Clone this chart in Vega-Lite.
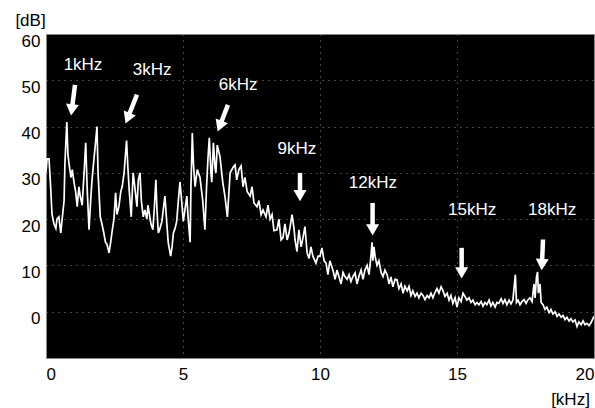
{
  "$schema": "https://vega.github.io/schema/vega-lite/v6.json",
  "width": 548,
  "height": 324,
  "autosize": {"type": "none"},
  "padding": {"left": 46, "top": 34, "right": 1, "bottom": 50},
  "background": "white",
  "config": {
    "view": {"fill": "black", "stroke": "#8a8a8a", "strokeWidth": 1, "strokeDash": [2, 1]},
    "font": "Liberation Sans",
    "axis": {"labelFont": "Liberation Sans", "titleFont": "Liberation Sans"}
  },
  "datasets": {
    "spec": [
      {"f":0.00,"db":30},{"f":0.04,"db":33},{"f":0.11,"db":33},{"f":0.16,"db":28},{"f":0.22,"db":21},{"f":0.29,"db":19},{"f":0.36,"db":18},{"f":0.40,"db":20},{"f":0.47,"db":20.5},{"f":0.54,"db":17},{"f":0.58,"db":19.5},{"f":0.66,"db":24},{"f":0.69,"db":32},{"f":0.76,"db":41},{"f":0.80,"db":34},{"f":0.84,"db":32},{"f":0.91,"db":29},{"f":0.96,"db":30.7},{"f":1.02,"db":28},{"f":1.08,"db":26},{"f":1.14,"db":22.7},{"f":1.20,"db":27},{"f":1.25,"db":25},{"f":1.32,"db":23},{"f":1.39,"db":30},{"f":1.45,"db":36.5},{"f":1.50,"db":27},{"f":1.57,"db":17.7},{"f":1.63,"db":24},{"f":1.68,"db":28.5},{"f":1.75,"db":33},{"f":1.80,"db":36},{"f":1.86,"db":40},{"f":1.90,"db":30},{"f":1.98,"db":20.5},{"f":2.04,"db":19},{"f":2.11,"db":17},{"f":2.17,"db":15},{"f":2.23,"db":14.5},{"f":2.30,"db":12.7},{"f":2.36,"db":15},{"f":2.42,"db":17.7},{"f":2.48,"db":20},{"f":2.54,"db":25.7},{"f":2.59,"db":21},{"f":2.66,"db":22.7},{"f":2.73,"db":26},{"f":2.78,"db":27},{"f":2.85,"db":30},{"f":2.94,"db":37},{"f":2.99,"db":31},{"f":3.04,"db":26},{"f":3.11,"db":20.5},{"f":3.18,"db":30},{"f":3.24,"db":27},{"f":3.32,"db":22.7},{"f":3.37,"db":28.5},{"f":3.43,"db":30},{"f":3.48,"db":24},{"f":3.55,"db":20.5},{"f":3.61,"db":22},{"f":3.68,"db":20},{"f":3.72,"db":23},{"f":3.83,"db":19},{"f":3.90,"db":17.7},{"f":3.96,"db":23},{"f":4.01,"db":28.5},{"f":4.05,"db":22},{"f":4.10,"db":17},{"f":4.16,"db":18},{"f":4.23,"db":19.5},{"f":4.28,"db":22},{"f":4.34,"db":25},{"f":4.41,"db":19},{"f":4.46,"db":15},{"f":4.55,"db":12},{"f":4.60,"db":14},{"f":4.65,"db":17},{"f":4.71,"db":18},{"f":4.77,"db":19.5},{"f":4.83,"db":24},{"f":4.89,"db":28},{"f":4.95,"db":24},{"f":5.01,"db":19.5},{"f":5.07,"db":22},{"f":5.14,"db":25},{"f":5.19,"db":20},{"f":5.26,"db":15},{"f":5.29,"db":27},{"f":5.34,"db":38.6},{"f":5.38,"db":32},{"f":5.44,"db":27},{"f":5.52,"db":30.7},{"f":5.62,"db":29},{"f":5.72,"db":24},{"f":5.80,"db":17.7},{"f":5.86,"db":27},{"f":5.91,"db":33},{"f":5.96,"db":37.6},{"f":6.02,"db":30},{"f":6.05,"db":28},{"f":6.11,"db":36.5},{"f":6.17,"db":31},{"f":6.20,"db":30},{"f":6.25,"db":36},{"f":6.35,"db":33.5},{"f":6.45,"db":28},{"f":6.53,"db":25},{"f":6.62,"db":20.5},{"f":6.72,"db":30},{"f":6.84,"db":31.3},{"f":6.90,"db":31.7},{"f":6.96,"db":28.5},{"f":7.04,"db":30.7},{"f":7.12,"db":31.5},{"f":7.19,"db":27},{"f":7.26,"db":29},{"f":7.34,"db":26},{"f":7.45,"db":25},{"f":7.52,"db":27},{"f":7.59,"db":23.5},{"f":7.70,"db":22.7},{"f":7.77,"db":24},{"f":7.85,"db":21},{"f":7.92,"db":22},{"f":8.03,"db":20.5},{"f":8.10,"db":23},{"f":8.18,"db":20},{"f":8.25,"db":21},{"f":8.32,"db":17.5},{"f":8.43,"db":17.7},{"f":8.50,"db":20},{"f":8.58,"db":15.5},{"f":8.65,"db":16},{"f":8.72,"db":19},{"f":8.80,"db":15.5},{"f":8.87,"db":17},{"f":8.98,"db":21},{"f":9.05,"db":18},{"f":9.09,"db":15.5},{"f":9.16,"db":13},{"f":9.23,"db":17.7},{"f":9.31,"db":14},{"f":9.38,"db":16},{"f":9.45,"db":18.4},{"f":9.53,"db":12.7},{"f":9.60,"db":11.5},{"f":9.67,"db":14},{"f":9.74,"db":12},{"f":9.85,"db":10.5},{"f":9.93,"db":12},{"f":10.00,"db":12},{"f":10.07,"db":13.8},{"f":10.15,"db":11},{"f":10.22,"db":10.5},{"f":10.29,"db":8},{"f":10.36,"db":11},{"f":10.47,"db":9},{"f":10.55,"db":7},{"f":10.62,"db":9},{"f":10.69,"db":7.6},{"f":10.77,"db":6},{"f":10.84,"db":8.5},{"f":10.91,"db":7.6},{"f":10.99,"db":7},{"f":11.06,"db":8},{"f":11.13,"db":6.5},{"f":11.20,"db":7.6},{"f":11.28,"db":8.4},{"f":11.35,"db":6},{"f":11.42,"db":7.6},{"f":11.50,"db":9},{"f":11.57,"db":7},{"f":11.64,"db":9},{"f":11.72,"db":10},{"f":11.79,"db":8},{"f":11.86,"db":12},{"f":11.90,"db":15},{"f":11.93,"db":11},{"f":11.97,"db":14},{"f":12.01,"db":12},{"f":12.08,"db":10},{"f":12.15,"db":11},{"f":12.23,"db":8.5},{"f":12.30,"db":7.6},{"f":12.37,"db":9},{"f":12.45,"db":8},{"f":12.52,"db":6},{"f":12.59,"db":7.5},{"f":12.66,"db":5.4},{"f":12.74,"db":7},{"f":12.81,"db":6.9},{"f":12.88,"db":5},{"f":12.96,"db":6},{"f":13.03,"db":4},{"f":13.10,"db":5.5},{"f":13.18,"db":4.5},{"f":13.25,"db":5.5},{"f":13.32,"db":3.5},{"f":13.39,"db":4.5},{"f":13.47,"db":3.3},{"f":13.54,"db":4},{"f":13.61,"db":3},{"f":13.69,"db":4},{"f":13.76,"db":3.5},{"f":13.83,"db":2.6},{"f":13.91,"db":3.5},{"f":13.98,"db":3},{"f":14.05,"db":4},{"f":14.12,"db":3},{"f":14.20,"db":4.2},{"f":14.27,"db":5},{"f":14.34,"db":4},{"f":14.42,"db":5.4},{"f":14.49,"db":4.5},{"f":14.56,"db":3.3},{"f":14.64,"db":4},{"f":14.71,"db":2.5},{"f":14.78,"db":3.5},{"f":14.85,"db":1.8},{"f":14.93,"db":3},{"f":15.00,"db":1},{"f":15.07,"db":3},{"f":15.15,"db":2.2},{"f":15.22,"db":4},{"f":15.29,"db":3.3},{"f":15.36,"db":2.5},{"f":15.44,"db":3},{"f":15.51,"db":2},{"f":15.58,"db":2.5},{"f":15.66,"db":1.5},{"f":15.73,"db":2},{"f":15.80,"db":1.5},{"f":15.88,"db":2.2},{"f":15.95,"db":1.2},{"f":16.02,"db":2},{"f":16.09,"db":1.5},{"f":16.17,"db":2.5},{"f":16.24,"db":1.2},{"f":16.31,"db":2},{"f":16.39,"db":1},{"f":16.46,"db":2},{"f":16.53,"db":1.8},{"f":16.61,"db":2.8},{"f":16.68,"db":1.8},{"f":16.75,"db":2.6},{"f":16.82,"db":1.5},{"f":16.90,"db":2.5},{"f":16.97,"db":1.7},{"f":17.04,"db":2.5},{"f":17.08,"db":5},{"f":17.13,"db":8},{"f":17.17,"db":2},{"f":17.23,"db":2.5},{"f":17.30,"db":1.5},{"f":17.37,"db":2.2},{"f":17.45,"db":2.6},{"f":17.52,"db":1.8},{"f":17.59,"db":2.6},{"f":17.66,"db":3},{"f":17.74,"db":2.2},{"f":17.81,"db":6},{"f":17.85,"db":3},{"f":17.90,"db":7.5},{"f":17.94,"db":8.6},{"f":17.97,"db":4},{"f":18.03,"db":6},{"f":18.07,"db":2},{"f":18.14,"db":1.5},{"f":18.21,"db":0.5},{"f":18.28,"db":1},{"f":18.36,"db":-0.2},{"f":18.43,"db":0.5},{"f":18.50,"db":-0.5},{"f":18.58,"db":0},{"f":18.65,"db":-1},{"f":18.72,"db":-0.5},{"f":18.80,"db":-1.2},{"f":18.87,"db":-0.8},{"f":18.94,"db":-1.7},{"f":19.01,"db":-1.2},{"f":19.09,"db":-2},{"f":19.16,"db":-1.5},{"f":19.23,"db":-2.2},{"f":19.31,"db":-1.8},{"f":19.38,"db":-3.2},{"f":19.45,"db":-2.2},{"f":19.53,"db":-2.8},{"f":19.60,"db":-2},{"f":19.67,"db":-2.8},{"f":19.74,"db":-2.5},{"f":19.82,"db":-3},{"f":19.89,"db":-2.4},{"f":19.96,"db":-1.5},{"f":20.00,"db":-1}
    ],
    "arrows": [
      {"label":"1kHz","lx":1.35,"ly":53.3,"x1":1.06,"y1":49.0,"hx":0.94,"hy":43.6,"ang":7},
      {"label":"3kHz","lx":3.87,"ly":52.3,"x1":3.32,"y1":46.9,"hx":2.98,"hy":41.8,"ang":22},
      {"label":"6kHz","lx":7.01,"ly":49.0,"x1":6.64,"y1":44.7,"hx":6.34,"hy":40.1,"ang":21},
      {"label":"9kHz","lx":9.16,"ly":35.2,"x1":9.27,"y1":30.0,"hx":9.27,"hy":25.1,"ang":0},
      {"label":"12kHz","lx":11.93,"ly":27.9,"x1":11.92,"y1":23.5,"hx":11.92,"hy":17.7,"ang":0},
      {"label":"15kHz","lx":15.55,"ly":22.0,"x1":15.17,"y1":13.8,"hx":15.17,"hy":8.4,"ang":0},
      {"label":"18kHz","lx":18.47,"ly":22.0,"x1":18.14,"y1":15.6,"hx":18.10,"hy":10.2,"ang":3}
    ]
  },
  "layer": [
    {
      "data": {"name": "spec"},
      "mark": {"type": "line", "color": "white", "strokeWidth": 1.7, "clip": true},
      "encoding": {
        "x": {"field": "f", "type": "quantitative", "scale": {"domain": [0, 20], "nice": false},
          "axis": {"values": [0, 5, 10, 15, 20], "grid": true, "gridColor": "#8a8a8a", "gridDash": [1, 5], "gridWidth": 1,
            "domain": false, "ticks": false, "labelFontSize": 17, "labelColor": "black", "labelPadding": 8, "labelFlush": true,
            "title": "[kHz]", "titleFontSize": 17, "titleFontWeight": "normal", "titleColor": "black",
            "titleAnchor": null, "titleX": 524, "titleY": 41, "titleAlign": "center", "titleBaseline": "middle"}},
        "y": {"field": "db", "type": "quantitative", "scale": {"domain": [-10, 60], "nice": false},
          "axis": {"values": [0, 10, 20, 30, 40, 50, 60], "grid": true, "gridColor": "#8a8a8a", "gridDash": [1, 5], "gridWidth": 1,
            "domain": false, "ticks": false, "labelFontSize": 17, "labelColor": "black", "labelPadding": 6, "labelOffset": 7,
            "title": "[dB]", "titleFontSize": 17, "titleFontWeight": "normal", "titleColor": "black", "titleAngle": 0,
            "titleAnchor": null, "titleX": -16, "titleY": -14, "titleAlign": "center", "titleBaseline": "middle"}}
      }
    },
    {
      "data": {"name": "arrows"},
      "mark": {"type": "rule", "color": "white", "strokeWidth": 4.5},
      "encoding": {
        "x": {"field": "x1", "type": "quantitative"},
        "y": {"field": "y1", "type": "quantitative"},
        "x2": {"field": "hx"},
        "y2": {"field": "hy"}
      }
    },
    {
      "data": {"name": "arrows"},
      "mark": {"type": "point", "shape": "triangle-down", "filled": true, "color": "white", "opacity": 1, "size": 170},
      "encoding": {
        "x": {"field": "hx", "type": "quantitative"},
        "y": {"field": "hy", "type": "quantitative"},
        "angle": {"field": "ang", "type": "quantitative", "scale": null}
      }
    },
    {
      "data": {"name": "arrows"},
      "mark": {"type": "text", "color": "white", "fontSize": 17, "font": "Liberation Sans", "align": "center", "baseline": "middle"},
      "encoding": {
        "x": {"field": "lx", "type": "quantitative"},
        "y": {"field": "ly", "type": "quantitative"},
        "text": {"field": "label", "type": "nominal"}
      }
    }
  ]
}
